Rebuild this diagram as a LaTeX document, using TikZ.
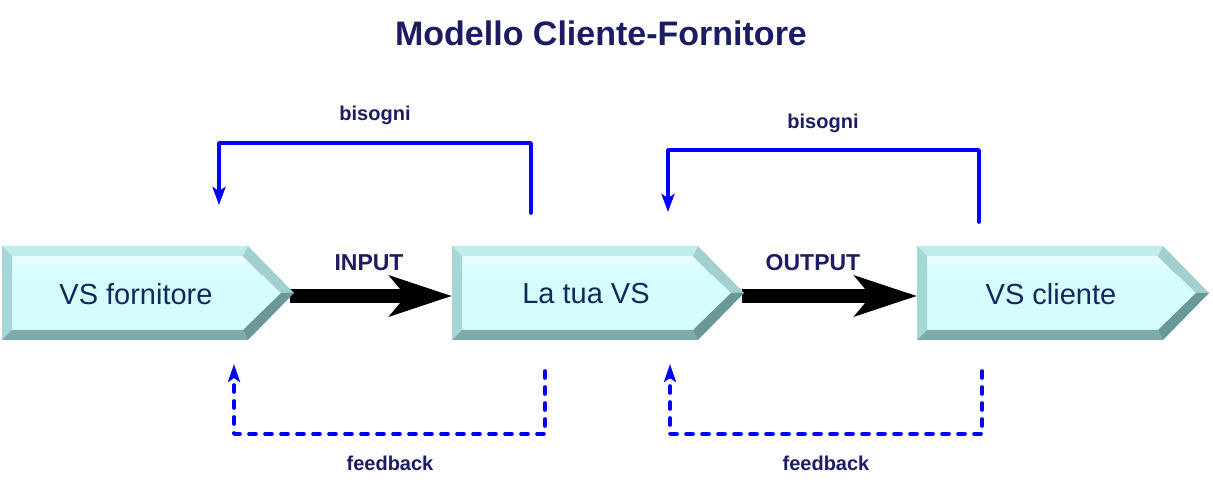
\documentclass[tikz,border=0pt]{standalone}
\usepackage{fontspec}
\setmainfont{Liberation Sans}
\usetikzlibrary{arrows.meta}
\definecolor{navy}{HTML}{1C1C64}
\definecolor{boxtext}{HTML}{10285C}
\definecolor{faceC}{HTML}{D6FDFD}
\definecolor{faceT}{HTML}{E6FFFF}
\definecolor{topB}{HTML}{BFEDED}
\definecolor{leftB}{HTML}{A6D6D6}
\definecolor{botB}{HTML}{7DABAB}
\definecolor{udB}{HTML}{A2CFCF}
\definecolor{ldB}{HTML}{6A9797}
\definecolor{linkblue}{HTML}{0000FF}
\tikzset{
  boxlabel/.style={text=boxtext,font=\fontsize{29}{33}\selectfont,inner sep=0pt},
  flowlabel/.style={text=navy,font=\bfseries\fontsize{23}{27}\selectfont,inner sep=0pt},
  smalllabel/.style={text=navy,font=\bfseries\fontsize{20}{24}\selectfont,inner sep=0pt},
  titlelabel/.style={text=navy,font=\bfseries\fontsize{34}{40}\selectfont,inner sep=0pt},
  bigarrow/.style={line width=14pt,-{Stealth[length=62pt,width=40pt,inset=16pt]}},
  needlink/.style={linkblue,line width=3.6pt,line join=round,line cap=round,-{Stealth[length=18pt,width=13pt,inset=4pt]}},
  fblink/.style={linkblue,line width=3.6pt,line join=round,line cap=round,dash pattern=on 7pt off 9pt,-{Stealth[length=18pt,width=12pt,inset=4pt]}}
}
\newcommand\vsshape[3]{%
  \begin{scope}[shift={(#2,0)}]
    \fill[faceC] (10,256) -- (241,256) -- (279,293) -- (241,330) -- (10,330) -- cycle;
    \fill[top color=faceT,bottom color=faceC] (10,256) -- (241,256) -- (260,275) -- (10,275) -- cycle;
    \fill[topB] (0,246) -- (246,246) -- (241,256) -- (10,256) -- cycle;
    \fill[leftB] (0,246) -- (10,256) -- (10,330) -- (0,340) -- cycle;
    \fill[botB] (0,340) -- (10,330) -- (241,330) -- (246,340) -- cycle;
    \fill[udB] (246,246) -- (292,293) -- (279,293) -- (241,256) -- cycle;
    \fill[ldB] (292,293) -- (246,340) -- (241,330) -- (279,293) -- cycle;
    \node[boxlabel] (#1) at (134,294) {#3};
  \end{scope}}
\begin{document}
\begin{tikzpicture}[x=1pt,y=-1pt]
\useasboundingbox[fill=white] (0,0) rectangle (1213,486);
\node[titlelabel] (title) at (601,33) {Modello Cliente-Fornitore};
% anchors of the shapes
\coordinate (supB-out) at (290,296);
\coordinate (youB-in) at (452,296);
\coordinate (youB-out) at (742,296);
\coordinate (cliB-in) at (917,296);
% main flow arrows (drawn under the shapes)
\draw[bigarrow] (supB-out) -- (youB-in);
\draw[bigarrow] (youB-out) -- (cliB-in);
\vsshape{sup}{2}{VS fornitore}
\vsshape{you}{452}{La tua VS}
\vsshape{cli}{917}{VS cliente}
\node[flowlabel] (inlbl) at (369,263) {INPUT};
\node[flowlabel] (outlbl) at (813,263) {OUTPUT};
% needs
\coordinate (need1s) at (531,213);
\coordinate (need1e) at (219,205);
\coordinate (need2s) at (979,222);
\coordinate (need2e) at (668,212);
\draw[needlink] (need1s) -- ++(0,-70) -| (need1e);
\draw[needlink] (need2s) -- ++(0,-72) -| (need2e);
\node[smalllabel] (bis1) at (375,115) {bisogni};
\node[smalllabel] (bis2) at (823,123) {bisogni};
% feedback
\coordinate (fb1s) at (545,371);
\coordinate (fb1e) at (234,364);
\coordinate (fb2s) at (982,371);
\coordinate (fb2e) at (670,364);
\draw[fblink] (fb1s) -- ++(0,63) -| (fb1e);
\draw[fblink] (fb2s) -- ++(0,63) -| (fb2e);
\node[smalllabel] (fbl1) at (390,463) {feedback};
\node[smalllabel] (fbl2) at (826,463) {feedback};
\end{tikzpicture}
\end{document}
